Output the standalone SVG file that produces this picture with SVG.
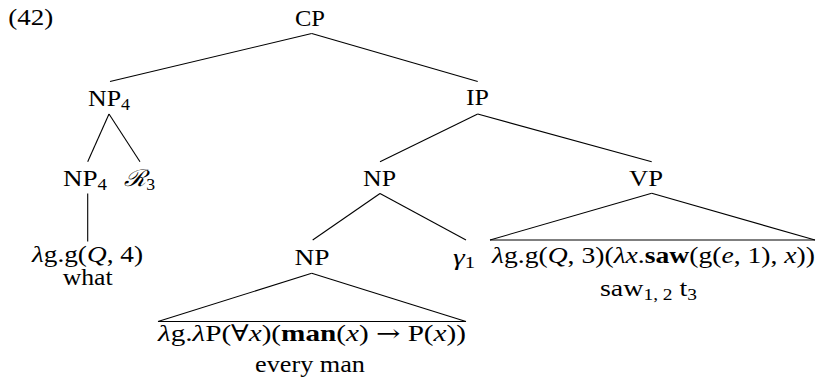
<svg xmlns="http://www.w3.org/2000/svg" width="817" height="385" viewBox="0 0 817 385">
<style>
text{font-family:'Liberation Serif','Times New Roman',Times,serif;font-size:23px;fill:#000;text-anchor:middle}
.i{font-style:italic}
.b{font-weight:bold}
.s{font-size:16px}
.sym{font-family:'DejaVu Serif','Liberation Serif',serif}
line{stroke:#000;stroke-width:1.1;fill:none}
</style>
<rect width="817" height="385" fill="#fff"/>
<g id="connectors">
<line x1="311.7" y1="33.5" x2="110" y2="81.5"/>
<line x1="311.7" y1="33.5" x2="477.7" y2="81.5"/>
<line x1="109" y1="114" x2="87.7" y2="161.7"/>
<line x1="109" y1="114" x2="140" y2="161.7"/>
<line x1="477.7" y1="114" x2="380" y2="161.7"/>
<line x1="477.7" y1="114" x2="651.7" y2="161.7"/>
<line x1="380" y1="193.5" x2="312.7" y2="240"/>
<line x1="380" y1="193.5" x2="466" y2="240"/>
<line x1="87.7" y1="193.5" x2="87.7" y2="241.5"/>
<line x1="311.7" y1="273.3" x2="158" y2="321.5"/>
<line x1="311.7" y1="273.3" x2="466" y2="321.5"/>
<line x1="158" y1="321.5" x2="466" y2="321.5"/>
<line x1="651.7" y1="193.3" x2="490" y2="240"/>
<line x1="651.7" y1="193.3" x2="815" y2="240"/>
<line x1="490" y1="240" x2="815" y2="240"/>
</g>
<g font-family="Liberation Serif, Times New Roman, serif" font-size="23">
<g id="label"><text x="8.3" y="25" style="text-anchor:start" textLength="45" lengthAdjust="spacingAndGlyphs">(42)</text></g>
<g id="CP"><text x="310" y="25.5" textLength="30" lengthAdjust="spacingAndGlyphs">CP</text></g>
<g id="NP4top"><text x="109" y="105.5" textLength="42" lengthAdjust="spacingAndGlyphs">NP<tspan class="s" dy="4">4</tspan></text></g>
<g id="IP"><text x="477.5" y="105" textLength="23" lengthAdjust="spacingAndGlyphs">IP</text></g>
<g id="NP4low"><text x="85" y="185.5" textLength="44" lengthAdjust="spacingAndGlyphs">NP<tspan class="s" dy="4">4</tspan></text></g>
<g id="R3"><text x="139.5" y="185.5" textLength="31" lengthAdjust="spacingAndGlyphs"><tspan class="i sym">ℛ</tspan><tspan class="s" dy="4">3</tspan></text></g>
<g id="NPmid"><text x="379.5" y="185.5" textLength="33" lengthAdjust="spacingAndGlyphs">NP</text></g>
<g id="VP"><text x="646" y="185.5" textLength="34" lengthAdjust="spacingAndGlyphs">VP</text></g>
<g id="what">
<text x="87.5" y="262" textLength="111" lengthAdjust="spacingAndGlyphs"><tspan class="i">λ</tspan>g.g(<tspan class="i">Q</tspan>, 4)</text>
<text x="87.7" y="285" textLength="50" lengthAdjust="spacingAndGlyphs">what</text>
</g>
<g id="NPlow"><text x="312" y="265" textLength="35" lengthAdjust="spacingAndGlyphs">NP</text></g>
<g id="gamma1"><text x="464" y="265" textLength="22" lengthAdjust="spacingAndGlyphs"><tspan class="i">γ</tspan><tspan class="s" dy="3">1</tspan></text></g>
<g id="VPterm">
<text x="653.5" y="263" textLength="323" lengthAdjust="spacingAndGlyphs"><tspan class="i">λ</tspan>g.g(<tspan class="i">Q</tspan>, 3)(<tspan class="i">λx</tspan>.<tspan class="b">saw</tspan>(g(<tspan class="i">e</tspan>, 1), <tspan class="i">x</tspan>))</text>
<text x="648.5" y="296" textLength="97" lengthAdjust="spacingAndGlyphs">saw<tspan class="s" dy="4">1, 2</tspan><tspan dy="-4"> t</tspan><tspan class="s" dy="4">3</tspan></text>
</g>
<g id="everyman">
<text x="312" y="341" textLength="308" lengthAdjust="spacingAndGlyphs"><tspan class="i">λ</tspan>g.<tspan class="i">λ</tspan>P(<tspan class="sym">∀</tspan><tspan class="i">x</tspan>)(<tspan class="b">man</tspan>(<tspan class="i">x</tspan>) <tspan class="sym">→</tspan> P(<tspan class="i">x</tspan>))</text>
<text x="310" y="372" textLength="110" lengthAdjust="spacingAndGlyphs">every man</text>
</g>
</g>
</svg>
